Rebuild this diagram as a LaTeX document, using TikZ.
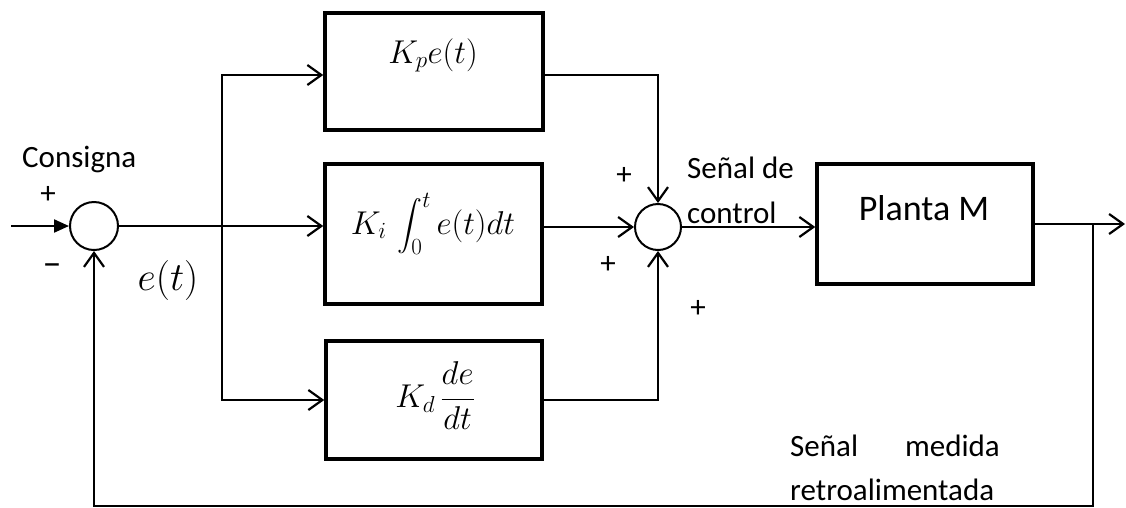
\RequirePackage{fix-cm}
\documentclass[tikz,border=0pt]{standalone}
\usepackage{amsmath}
\usepackage{fontspec}
\setmainfont{Carlito}
\usetikzlibrary{arrows.meta,calc}
\begin{document}
\begin{tikzpicture}[x=1pt,y=-1pt,
  blk/.style={draw, line width=3.5pt, inner sep=0pt},
  sumc/.style={draw, circle, line width=2pt, inner sep=0pt},
  wire/.style={line width=2.2pt},
  oarr/.style={-{Straight Barb[length=14pt,width=20pt]}},
  farr/.style={-{Triangle[length=15pt,width=13pt]}},
  lbl/.style={font=\fontsize{31}{37}\selectfont, inner sep=0pt},
  mth/.style={font=\fontsize{33}{40}\selectfont, inner sep=0pt},
  bigmth/.style={font=\fontsize{40}{48}\selectfont, inner sep=0pt}]
\useasboundingbox (0,0) rectangle (1126,507);
% blocks
\node[blk, minimum width=218pt, minimum height=117pt] (kp) at (434,71.5) {};
\node[blk, minimum width=217pt, minimum height=140pt] (ki) at (433.5,234) {};
\node[blk, minimum width=216pt, minimum height=118pt] (kd) at (434,400) {};
\node[blk, minimum width=216pt, minimum height=120pt] (plant) at (925,224) {};
\node[sumc, minimum size=48pt] (sum1) at (94,226) {};
\node[sumc, minimum size=46pt] (sum2) at (658,227) {};
% coordinates
\coordinate (in) at (11,226);
\coordinate (br) at (222,226);
\coordinate (ob) at (1093,224);
\coordinate (out) at (1125,224);
\coordinate (fb) at (0,506);
% connectors
\draw[wire, farr] (in) -- (sum1.west);
\draw[wire] (sum1.east) -- (br);
\draw[wire, oarr] (br) -- (br -| ki.west);
\draw[wire, oarr] (br) |- ([yshift=-3.5pt]kp.west);
\draw[wire, oarr] (br) |- (kd.west);
\draw[wire, oarr] ([yshift=-3.5pt]kp.east) -| (sum2.north);
\draw[wire, oarr] (ki.east |- sum2.west) -- (sum2.west);
\draw[wire, oarr] (kd.east) -| (sum2.south);
\draw[wire, oarr] (sum2.east) -- (sum2.east -| plant.west);
\draw[wire, oarr] (plant.east) -- (out);
\draw[wire, oarr] (ob) |- (sum1.south |- fb) -- (sum1.south);
% texts
\node[lbl, anchor=base west] (consigna) at (22,167) {Consigna};
\node[lbl] (p1) at (48,195) {+};
\node[lbl, font=\fontsize{38}{44}\selectfont] (m1) at (52,270) {–};
\node[bigmth] (et) at (168,280) {$e(t)$};
\node[mth, anchor=base] (kpt) at (433,63) {$K_p e(t)$};
\node[mth, anchor=base] (kit) at (433,234) {$K_i \,\displaystyle\int_0^t e(t)dt$};
\node[mth] (kdt) at (435,396) {$K_d \,\dfrac{de}{dt}$};
\node[lbl] (p2) at (624,176) {+};
\node[lbl] (p3) at (608,265) {+};
\node[lbl] (p4) at (698,309) {+};
\node[lbl, anchor=base west] (sd) at (687,178) {Señal de};
\node[lbl, anchor=base west] (ctl) at (687,223) {control};
\node[font=\fontsize{36}{43}\selectfont, inner sep=0pt, anchor=base] (pm) at (924,220) {Planta M};
\node[lbl, anchor=base west] (sm1) at (790,456) {Señal};
\node[lbl, anchor=base east] (sm2) at (1000,456) {medida};
\node[lbl, anchor=base west] (sm3) at (790,500) {retroalimentada};
\end{tikzpicture}
\end{document}
